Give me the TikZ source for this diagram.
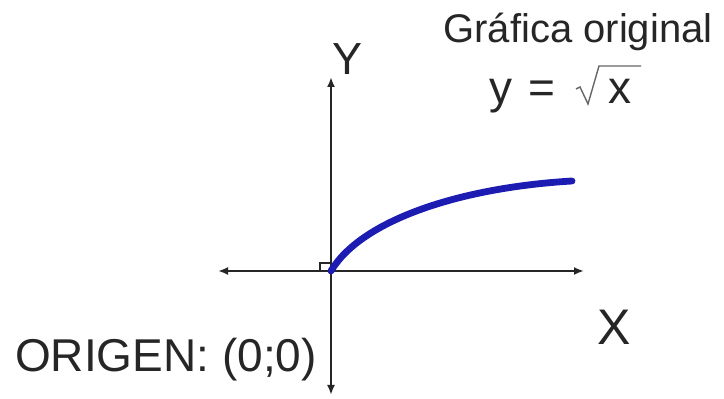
\documentclass[tikz,border=0pt]{standalone}
\usepackage{fontspec}
\setmainfont{Liberation Sans}
\usetikzlibrary{arrows.meta}
\definecolor{curveblue}{RGB}{28,28,178}
\definecolor{ink}{RGB}{38,38,38}

\begin{document}
\begin{tikzpicture}[x=0.5pt,y=-0.5pt]
\tikzset{axis/.style={draw=ink,line width=1pt,{Latex[length=5pt,width=4pt]}-{Latex[length=5pt,width=4pt]}},
  lbl/.style={inner sep=0pt,anchor=base,text=ink},
  curve/.style={draw=curveblue,line width=3.4pt,line cap=round}}
\useasboundingbox[fill=white] (0,0) rectangle (724,399);

\path (331,271) coordinate (o);
\path (218,271) coordinate (xl);
\path (584,271) coordinate (xr);
\path (331,77) coordinate (yt);
\path (331,395) coordinate (yb);
\path (572,181) coordinate (ce);

\draw[axis] (xl) -- (xr);
\draw[axis] (yb) -- (yt);
\draw[ink,line width=0.8pt] (o) rectangle ++(-11,-8);
\draw[curve] (o) .. controls (360,222) and (455,188) .. (ce);

\path (347.5,75) node[lbl,font=\fontsize{22.5}{26}\selectfont] (ylab) {Y};
\path (614,345) node[lbl,font=\fontsize{25}{29}\selectfont] (xlab) {X};
\path (578,43) node[lbl,font=\fontsize{20}{24}\selectfont] (title) {Gráfica original};
\path (166,372) node[lbl,font=\fontsize{23}{27}\selectfont] (orig) {ORIGEN: (0;0)};

% y = raiz de x
\path (501,104) node[lbl,font=\fontsize{23}{27}\selectfont] (yv) {y};
\path (542,104) node[lbl,font=\fontsize{23}{27}\selectfont] (eqs) {=};
\path (620,104) node[lbl,font=\fontsize{23}{27}\selectfont] (xv) {x};
\draw[black!60,line width=0.7pt] (576,89) -- (580,87) -- (588,104) -- (599,66) -- (641,66);
\end{tikzpicture}
\end{document}
